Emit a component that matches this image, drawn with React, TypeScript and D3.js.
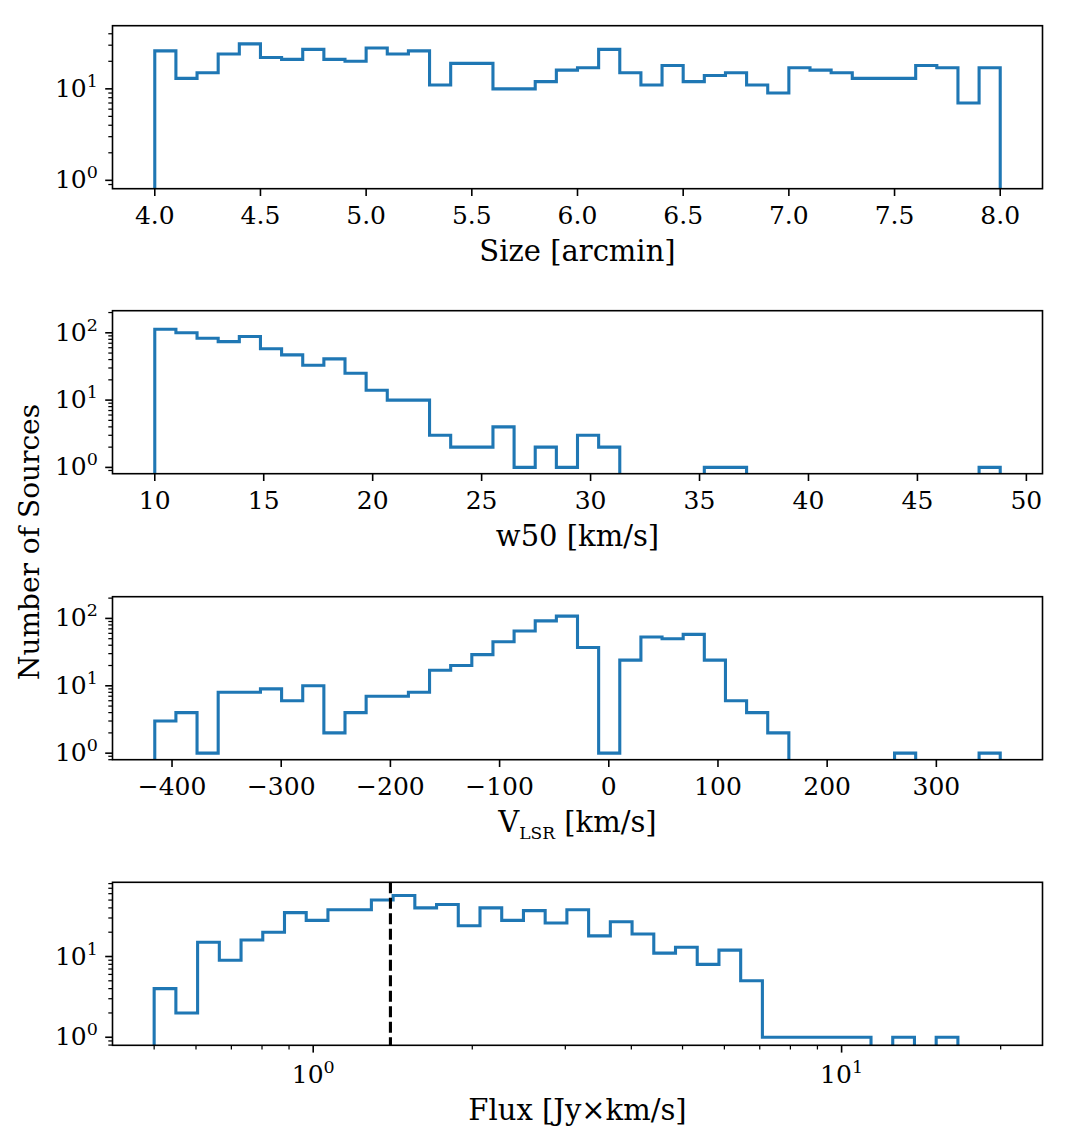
import * as d3 from "d3";

// histogram counts (one entry per bin)
const sizeCounts = [26, 13, 15, 24, 31, 22, 21, 27, 21, 20, 28, 24, 26, 11, 19, 19, 10, 10, 12, 16, 17, 27, 15, 11, 18, 12, 14, 15, 11, 9, 17, 16, 15, 13, 13, 13, 18, 17, 7, 17];
const w50Counts = [113, 100, 83, 74, 88, 58, 47, 33, 41, 25, 14, 10, 10, 3, 2, 2, 4, 1, 2, 1, 3, 2, 0, 0, 0, 0, 1, 1, 0, 0, 0, 0, 0, 0, 0, 0, 0, 0, 0, 1];
const vlsrCounts = [3, 4, 1, 8, 8, 9, 6, 10, 2, 4, 7, 7, 8, 17, 20, 29, 45, 65, 92, 108, 37, 1, 24, 53, 50, 58, 24, 6, 4, 2, 0, 0, 0, 0, 0, 1, 0, 0, 0, 1];
const fluxCounts = [4, 2, 15, 9, 16, 20, 35, 28, 38, 38, 50, 57, 40, 44, 24, 40, 28, 37, 26, 38, 18, 27, 19, 11, 13, 8, 12, 5, 1, 1, 1, 1, 1, 0, 1, 0, 1];

// bin ranges
const sizeRange: [number, number] = [4.0, 8.0];
const w50Range: [number, number] = [10, 48.8];
const vlsrRange: [number, number] = [-415.8, 358.5];
const fluxRange: [number, number] = [0.5, 16.6];
const fluxCut = 1.4;

// tick labels
const sizeTicks = [4.0, 4.5, 5.0, 5.5, 6.0, 6.5, 7.0, 7.5, 8.0];
const w50Ticks = [10, 15, 20, 25, 30, 35, 40, 45, 50];
const vlsrTicks = [-400, -300, -200, -100, 0, 100, 200, 300];
const fluxTicks = [1, 10];

const W = 1081;
const H = 1144;
const LEFT = 112.5;
const RIGHT = 1042.5;
const AX_H = 163;
const TOPS = [25.7, 310.7, 596.7, 882.3];
const BLUE = "#1f77b4";
const FONT = "DejaVu Serif";
const FS = 25; // tick labels
const LFS = 29; // axis labels
const SUP = 17.5;
const MAJ = 7.3;
const MIN = 4.2;

type Panel = {
  counts: number[];
  range: [number, number];
  logX: boolean;
  ticks: number[];
  fmt: (d: number) => string;
  yDomain: [number, number];
  xDomain?: [number, number];
  label: "size" | "w50" | "vlsr" | "flux";
};

const panels: Panel[] = [
  { counts: sizeCounts, range: sizeRange, logX: false, ticks: sizeTicks, fmt: (d) => d.toFixed(1), yDomain: [0.81, 49], label: "size" },
  { counts: w50Counts, range: w50Range, logX: false, ticks: w50Ticks, fmt: (d) => `${d}`, yDomain: [0.806, 213], label: "w50" },
  { counts: vlsrCounts, range: vlsrRange, logX: false, ticks: vlsrTicks, fmt: (d) => `${d}`.replace("-", "\u2212"), yDomain: [0.8, 210], label: "vlsr" },
  { counts: fluxCounts, range: fluxRange, logX: true, ticks: fluxTicks, fmt: (d) => `${d}`, yDomain: [0.795, 83], xDomain: [0.417, 24], label: "flux" },
];

function logTicks(lo: number, hi: number) {
  const major: number[] = [];
  const minor: number[] = [];
  for (let e = Math.floor(Math.log10(lo)) - 1; e <= Math.ceil(Math.log10(hi)); e++) {
    for (let m = 1; m < 10; m++) {
      const v = m * Math.pow(10, e);
      if (v < lo || v > hi) continue;
      if (m === 1) major.push(v);
      else minor.push(v);
    }
  }
  return { major, minor };
}

function PanelView({ p, i }: { p: Panel; i: number }) {
  const top = TOPS[i];
  const bottom = top + AX_H;
  const n = p.counts.length;

  let edges: number[];
  let x: any;
  if (p.logX) {
    const l0 = Math.log10(p.range[0]);
    const l1 = Math.log10(p.range[1]);
    edges = d3.range(n + 1).map((k) => Math.pow(10, l0 + ((l1 - l0) * k) / n));
    x = d3.scaleLog().domain(p.xDomain!).range([LEFT, RIGHT]);
  } else {
    edges = d3.range(n + 1).map((k) => p.range[0] + ((p.range[1] - p.range[0]) * k) / n);
    const span = p.range[1] - p.range[0];
    x = d3.scaleLinear().domain([p.range[0] - 0.05 * span, p.range[1] + 0.05 * span]).range([LEFT, RIGHT]);
  }
  const y = d3.scaleLog().domain(p.yDomain).range([bottom, top]);
  const yv = (c: number) => (c > 0 ? y(c) : bottom + 20);

  // step outline
  const pts: [number, number][] = [[x(edges[0]), bottom + 20]];
  p.counts.forEach((c, k) => {
    pts.push([x(edges[k]), yv(c)]);
    pts.push([x(edges[k + 1]), yv(c)]);
  });
  pts.push([x(edges[n]), bottom + 20]);
  const path = d3.line()(pts) ?? "";

  const yt = logTicks(p.yDomain[0], p.yDomain[1]);
  const clipId = `clip-${i}`;

  let xMajor: number[] = p.ticks;
  let xMinor: number[] = [];
  if (p.logX) {
    const lt = logTicks(p.xDomain![0], p.xDomain![1]);
    xMajor = lt.major;
    xMinor = lt.minor;
  }

  const labelY = p.logX ? bottom + 75 : bottom + 72;
  let label: any;
  if (p.label === "size") label = "Size [arcmin]";
  else if (p.label === "w50") label = "w50 [km/s]";
  else if (p.label === "flux") label = "Flux [Jy\u00d7km/s]";
  else
    label = (
      <>
        V<tspan fontSize={17} dy={7}>LSR</tspan>
        <tspan dy={-7}> [km/s]</tspan>
      </>
    );

  return (
    <g>
      <defs>
        <clipPath id={clipId}>
          <rect x={LEFT} y={top} width={RIGHT - LEFT} height={AX_H} />
        </clipPath>
      </defs>
      <path d={path} fill="none" stroke={BLUE} strokeWidth={3.1} strokeLinejoin="miter" clipPath={`url(#${clipId})`} />
      {p.logX && (
        <line x1={x(fluxCut)} x2={x(fluxCut)} y1={top} y2={bottom} stroke="#000" strokeWidth={3.1} strokeDasharray="11,4.5" />
      )}
      <rect x={LEFT} y={top} width={RIGHT - LEFT} height={AX_H} fill="none" stroke="#000" strokeWidth={1.6} />

      {/* y ticks */}
      {yt.minor.map((v) => (
        <line key={`ym${v}`} x1={LEFT - MIN} x2={LEFT} y1={y(v)} y2={y(v)} stroke="#000" strokeWidth={1.25} />
      ))}
      {yt.major.map((v) => (
        <g key={`yM${v}`}>
          <line x1={LEFT - MAJ} x2={LEFT} y1={y(v)} y2={y(v)} stroke="#000" strokeWidth={1.6} />
          <text x={LEFT - MAJ - 7.3} y={y(v) + 8} textAnchor="end" fontSize={FS}>
            10<tspan fontSize={SUP} dy={-10}>{Math.round(Math.log10(v))}</tspan>
          </text>
        </g>
      ))}

      {/* x ticks */}
      {xMinor.map((v) => (
        <line key={`xm${v}`} x1={x(v)} x2={x(v)} y1={bottom} y2={bottom + MIN} stroke="#000" strokeWidth={1.25} />
      ))}
      {xMajor.map((v) => (
        <g key={`xM${v}`}>
          <line x1={x(v)} x2={x(v)} y1={bottom} y2={bottom + MAJ} stroke="#000" strokeWidth={1.6} />
          {p.logX ? (
            <text x={x(v)} y={bottom + 37.5} textAnchor="middle" fontSize={FS}>
              10<tspan fontSize={SUP} dy={-10}>{Math.round(Math.log10(v))}</tspan>
            </text>
          ) : (
            <text x={x(v)} y={bottom + 35} textAnchor="middle" fontSize={FS}>
              {p.fmt(v)}
            </text>
          )}
        </g>
      ))}

      <text x={(LEFT + RIGHT) / 2} y={labelY} textAnchor="middle" fontSize={LFS}>
        {label}
      </text>
    </g>
  );
}

export default function App() {
  return (
    <div style={{ position: "absolute", left: 0, top: 0 }}>
      <svg width={W} height={H} style={{ display: "block", background: "#fff" }} fontFamily={FONT} fill="#000">
        {panels.map((p, i) => (
          <PanelView key={i} p={p} i={i} />
        ))}
        <text transform="translate(39,542) rotate(-90)" textAnchor="middle" fontSize={28}>
          Number of Sources
        </text>
      </svg>
    </div>
  );
}
